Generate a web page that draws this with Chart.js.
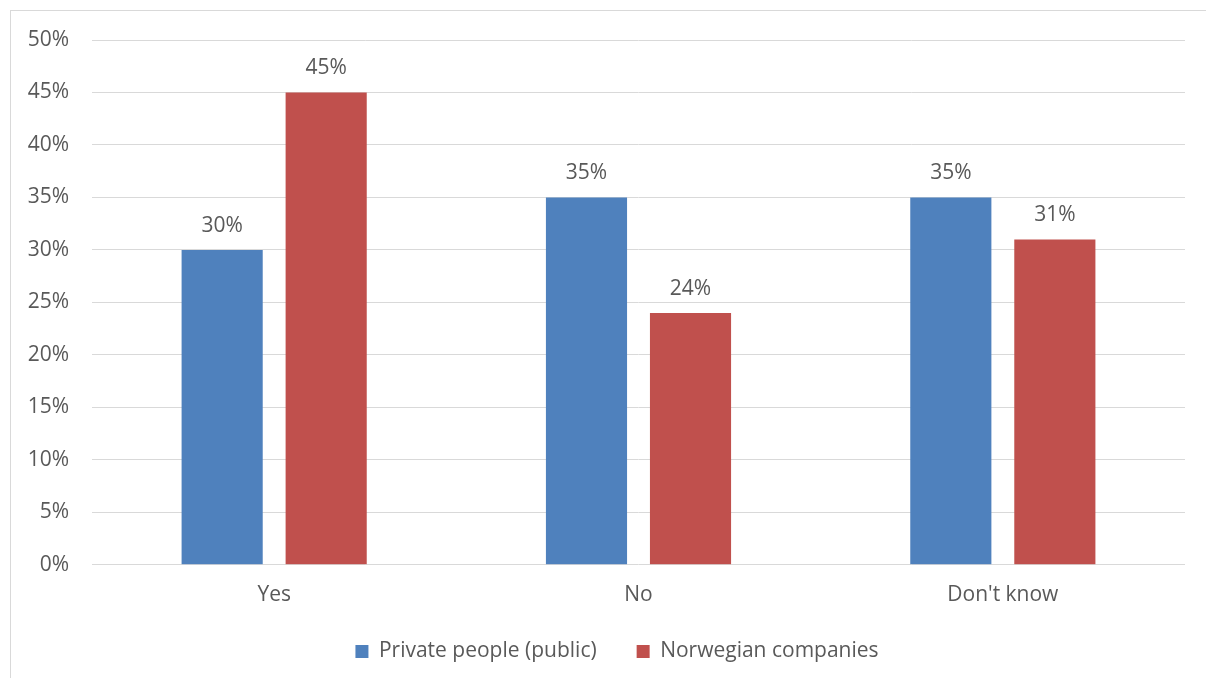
<!DOCTYPE html>
<html>
<head>
<meta charset="utf-8">
<script src="https://cdn.jsdelivr.net/npm/chart.js@4.4.1/dist/chart.umd.min.js"></script>
<style>
  html, body { margin: 0; padding: 0; background: #fff; overflow: hidden; }
  .frame { position: absolute; left: 10px; top: 10px; width: 1210px; height: 700px; border: 1px solid #d9d9d9; }
  .wrap { position: absolute; left: 0; top: 0; width: 1206px; height: 678px; }
</style>
</head>
<body>
<div class="frame"></div>
<div class="wrap"><canvas id="chart"></canvas></div>
<script>
const categories = ['Yes', 'No', "Don't know"];
const privatePeople = [30, 35, 35];
const norwegianCompanies = [45, 24, 31];
const yTicks = [0, 5, 10, 15, 20, 25, 30, 35, 40, 45, 50];

const textColor = '#595959';
const fontFamily = '"Open Sans", "Noto Sans", sans-serif';
const fontSize = 21;

// values above the bars
const barLabels = {
    id: 'barLabels',
    afterDatasetsDraw(chart) {
        const ctx = chart.ctx;
        ctx.save();
        ctx.fillStyle = textColor;
        ctx.font = fontSize + 'px ' + fontFamily;
        ctx.textAlign = 'center';
        ctx.textBaseline = 'middle';
        chart.data.datasets.forEach((ds, i) => {
            chart.getDatasetMeta(i).data.forEach((bar, j) => {
                ctx.fillText(ds.data[j] + '%', bar.x, bar.y - 24);
            });
        });
        ctx.restore();
    }
};

// legend: wide gap between items but less reserved height, centred on the outer frame
const legendTweak = {
    id: 'legendTweak',
    afterInit(chart) {
        const leg = chart.legend;
        const fit = leg.fit.bind(leg);
        leg.fit = function () {
            fit();
            this.height -= 11;
        };
    },
    afterLayout(chart) {
        const leg = chart.legend;
        leg.left += 19;
        leg.right += 19;
        leg.top -= 17;
        leg.bottom = chart.height;
        leg.height = leg.bottom - leg.top;
    }
};

new Chart(document.getElementById('chart'), {
    type: 'bar',
    data: {
        labels: categories,
        datasets: [
            { label: 'Private people (public)', data: privatePeople, backgroundColor: '#4f81bd' },
            { label: 'Norwegian companies', data: norwegianCompanies, backgroundColor: '#c0504d' }
        ]
    },
    options: {
        responsive: true,
        maintainAspectRatio: false,
        animation: false,
        categoryPercentage: 0.571,
        barPercentage: 0.78,
        layout: { padding: { left: 11, right: 21, top: 40, bottom: 0 } },
        plugins: {
            tooltip: { enabled: false },
            legend: {
                position: 'bottom',
                labels: {
                    color: textColor,
                    font: { family: fontFamily, size: fontSize },
                    boxWidth: 13,
                    boxHeight: 13,
                    padding: 40
                }
            }
        },
        scales: {
            x: {
                grid: { display: false },
                border: { display: false },
                ticks: { color: textColor, font: { family: fontFamily, size: fontSize }, padding: 10 }
            },
            y: {
                min: 0,
                max: 50,
                afterFit: axis => { axis.width = 81; },
                afterBuildTicks: axis => { axis.ticks = yTicks.map(v => ({ value: v })); },
                grid: { color: '#d9d9d9', lineWidth: 1, drawTicks: false },
                border: { display: false },
                ticks: {
                    color: textColor,
                    font: { family: fontFamily, size: fontSize },
                    padding: 23,
                    callback: v => v + '%'
                }
            }
        }
    },
    plugins: [barLabels, legendTweak]
});
</script>
</body>
</html>
